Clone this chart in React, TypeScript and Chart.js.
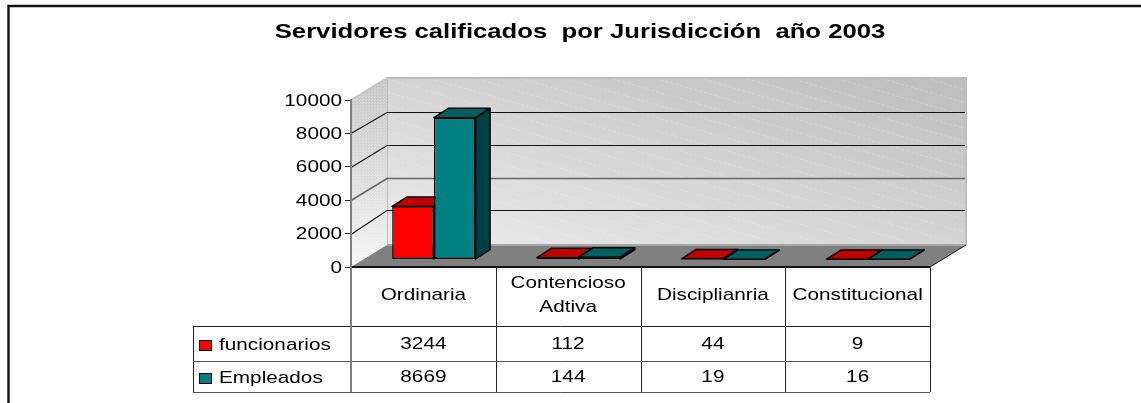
import React, { useEffect, useRef } from "react";
import { Chart, registerables } from "chart.js";

Chart.register(...registerables);

const chartTitle = "Servidores calificados  por Jurisdicción  año 2003";
const categories = ["Ordinaria", "Contencioso Adtiva", "Disciplianria", "Constitucional"];
const categoryLines = [["Ordinaria"], ["Contencioso", "Adtiva"], ["Disciplianria"], ["Constitucional"]];
const funcionarios = [3244, 112, 44, 9];
const empleados = [8669, 144, 19, 16];
const yTicks = [0, 2000, 4000, 6000, 8000, 10000];

const seriesStyle = [
  { name: "funcionarios", values: funcionarios, front: "#ff0000", top: "#c00000", side: "#800000" },
  { name: "Empleados", values: empleados, front: "#008080", top: "#006060", side: "#004040" },
];

const FONT = '"Liberation Sans", Arial, sans-serif';
const WALL_DX = 36;
const WALL_DY = 22;
const BAR_DX = 10.5;
const BAR_DY = 7.5;
const DEPTH_DX = 14.5;
const DEPTH_DY = 9.5;
const BAR_SQUEEZE = 0.98;
const TEXT_STRETCH = 1.22;
const TITLE_STRETCH = 1.252;

function stretched(ctx: any, text: string, x: number, y: number, k = TEXT_STRETCH) {
  ctx.save();
  ctx.translate(x, y);
  ctx.scale(k, 1);
  ctx.fillText(text, 0, 0);
  ctx.restore();
}

function dotPattern(ctx: any) {
  const c = document.createElement("canvas");
  c.width = 3;
  c.height = 3;
  const p = c.getContext("2d") as CanvasRenderingContext2D;
  p.fillStyle = "rgba(255,255,255,0.3)";
  p.fillRect(0, 0, 1, 1);
  p.fillRect(2, 1, 1, 1);
  return ctx.createPattern(c, "repeat");
}

const threeD = {
  id: "threeD",
  afterLayout(chart: any) {
    const { ctx, scales } = chart;
    const t = chart.titleBlock;
    t.left = 0;
    t.right = 1160;
    if (!t.__wrapped) {
      t.__wrapped = true;
      const orig = t.draw;
      t.draw = function (...args: any[]) {
        ctx.save();
        ctx.translate(580, 0);
        ctx.scale(TITLE_STRETCH, 1);
        ctx.translate(-580, 0);
        orig.apply(this, args);
        ctx.restore();
      };
    }
    const y = scales.y;
    if (!y.__wrapped) {
      y.__wrapped = true;
      const orig = y.drawLabels;
      y.drawLabels = function (...args: any[]) {
        ctx.save();
        ctx.translate(342, 1);
        ctx.scale(TEXT_STRETCH, 1);
        ctx.translate(-342, 0);
        orig.apply(this, args);
        ctx.restore();
      };
    }
  },
  beforeDraw(chart: any) {
    const { ctx, chartArea: a, scales } = chart;
    const y = scales.y;
    ctx.save();
    ctx.fillStyle = "#fff";
    ctx.fillRect(0, 0, chart.width, chart.height);

    // outer frame: top and left edges only are in the picture
    ctx.strokeStyle = "#111";
    ctx.lineWidth = 2.4;
    ctx.beginPath();
    ctx.moveTo(8.5, 403);
    ctx.lineTo(8.5, 6);
    ctx.lineTo(1141, 6);
    ctx.stroke();

    const bl = a.left + WALL_DX, br = a.right + WALL_DX;
    const bt = a.top - WALL_DY, bb = a.bottom - WALL_DY;

    // back wall: diagonal grey gradient
    const ex = br - bl, ey = bb - bt;
    const len = Math.hypot(ex, ey);
    const dx = ey / len, dy = -ex / len;
    const dist = ex * dx + -ey * dy;
    const g = ctx.createLinearGradient(bl, bb, bl + dx * dist, bb + dy * dist);
    g.addColorStop(0, "#ebebeb");
    g.addColorStop(1, "#bdbdbd");
    ctx.fillStyle = g;
    ctx.fillRect(bl, bt, ex, ey);

    // faint diagonal stripes of the gradient fill
    ctx.save();
    ctx.beginPath();
    ctx.rect(bl, bt, ex, ey);
    ctx.clip();
    ctx.strokeStyle = "rgba(255,255,255,0.22)";
    ctx.lineWidth = 1;
    ctx.setLineDash([3, 2]);
    for (let o = -ex * 0.29; o < ey; o += 13) {
      ctx.beginPath();
      ctx.moveTo(bl, bt + o);
      ctx.lineTo(br, bt + o + ex * 0.288);
      ctx.stroke();
    }
    ctx.restore();

    ctx.strokeStyle = "#bdbdbd";
    ctx.lineWidth = 2;
    ctx.beginPath();
    ctx.moveTo(bl, bb);
    ctx.lineTo(bl, bt);
    ctx.lineTo(br, bt);
    ctx.lineTo(br, bb);
    ctx.stroke();

    // left wall, lighter towards the bottom, with a dotted texture
    const sg = ctx.createLinearGradient(bl, bt, a.left, a.bottom);
    sg.addColorStop(0, "#c6c6c6");
    sg.addColorStop(0.55, "#dedede");
    sg.addColorStop(1, "#f6f6f6");
    const wall = () => {
      ctx.beginPath();
      ctx.moveTo(a.left, a.top);
      ctx.lineTo(bl, bt);
      ctx.lineTo(bl, bb);
      ctx.lineTo(a.left, a.bottom);
      ctx.closePath();
    };
    ctx.fillStyle = sg;
    wall();
    ctx.fill();
    ctx.fillStyle = dotPattern(ctx);
    wall();
    ctx.fill();
    ctx.strokeStyle = "#c4c4c4";
    ctx.lineWidth = 1.5;
    ctx.beginPath();
    ctx.moveTo(a.left, a.top);
    ctx.lineTo(bl, bt);
    ctx.stroke();

    // floor
    ctx.fillStyle = "#808080";
    ctx.beginPath();
    ctx.moveTo(a.left, a.bottom);
    ctx.lineTo(bl, bb);
    ctx.lineTo(br, bb);
    ctx.lineTo(a.right, a.bottom);
    ctx.closePath();
    ctx.fill();
    ctx.strokeStyle = "#a6a6a6";
    ctx.lineWidth = 2;
    ctx.beginPath();
    ctx.moveTo(bl, bb);
    ctx.lineTo(br, bb);
    ctx.stroke();
    ctx.strokeStyle = "#111";
    ctx.lineWidth = 1;
    ctx.beginPath();
    ctx.moveTo(a.right, a.bottom);
    ctx.lineTo(br, bb);
    ctx.stroke();

    // gridlines, through the y scale; the back wall is slightly foreshortened
    for (const t of yTicks) {
      if (t === 0 || t === 10000) continue;
      const py = y.getPixelForValue(t);
      const backY = a.bottom - 24 - (a.bottom - py) * BAR_SQUEEZE;
      ctx.strokeStyle = t === 4000 ? "#666" : "#111";
      ctx.lineWidth = t === 4000 ? 1.6 : 1.2;
      ctx.beginPath();
      ctx.moveTo(a.left, Math.round(py) + 0.5);
      ctx.lineTo(bl, Math.round(backY) + 0.5);
      ctx.lineTo(br - 1, Math.round(backY) + 0.5);
      ctx.stroke();
    }
    ctx.restore();
  },
  beforeDatasetDraw() {
    return false;
  },
  afterDatasetsDraw(chart: any) {
    const { ctx } = chart;
    ctx.save();
    seriesStyle.forEach((s, di) => {
      const meta = chart.getDatasetMeta(di);
      meta.data.forEach((el: any) => {
        const { x, y, base, width } = el.getProps(["x", "y", "base", "width"], true);
        ctx.save();
        ctx.setTransform(1, 0, 0, BAR_SQUEEZE, BAR_DX, base * (1 - BAR_SQUEEZE) - BAR_DY);
        const l = x - width / 2, r = x + width / 2;
        ctx.lineWidth = 1.5;
        ctx.strokeStyle = "#000";
        ctx.lineJoin = "round";
        ctx.fillStyle = s.top;
        ctx.beginPath();
        ctx.moveTo(l, y);
        ctx.lineTo(l + DEPTH_DX, y - DEPTH_DY);
        ctx.lineTo(r + DEPTH_DX, y - DEPTH_DY);
        ctx.lineTo(r, y);
        ctx.closePath();
        ctx.fill();
        ctx.stroke();
        ctx.fillStyle = s.side;
        ctx.beginPath();
        ctx.moveTo(r, y);
        ctx.lineTo(r + DEPTH_DX, y - DEPTH_DY);
        ctx.lineTo(r + DEPTH_DX, base - DEPTH_DY);
        ctx.lineTo(r, base);
        ctx.closePath();
        ctx.fill();
        ctx.stroke();
        el.draw(ctx);
        ctx.restore();
      });
    });
    ctx.restore();
  },
  afterDraw(chart: any) {
    const { ctx, chartArea: a, scales } = chart;
    const x = scales.x;
    const rows = [326, 361, 392];
    const tableLeft = 193;
    ctx.save();
    const step = (a.right - a.left) / categories.length;

    ctx.strokeStyle = "#111";
    ctx.lineWidth = 2;
    ctx.beginPath();
    ctx.moveTo(a.left, a.bottom);
    ctx.lineTo(a.right, a.bottom);
    ctx.stroke();

    ctx.lineWidth = 1;
    ctx.strokeStyle = "#222";
    ctx.beginPath();
    categories.forEach((_, i) => {
      const vx = Math.round(x.getPixelForValue(i) + step / 2) + 0.5;
      ctx.moveTo(vx, a.bottom);
      ctx.lineTo(vx, rows[2]);
    });
    ctx.moveTo(tableLeft, rows[0] + 0.5);
    ctx.lineTo(a.right, rows[0] + 0.5);
    ctx.moveTo(tableLeft + 0.5, rows[0]);
    ctx.lineTo(tableLeft + 0.5, rows[2]);
    ctx.stroke();
    ctx.strokeStyle = "#555";
    ctx.beginPath();
    ctx.moveTo(tableLeft, rows[1] + 0.5);
    ctx.lineTo(a.right, rows[1] + 0.5);
    ctx.moveTo(tableLeft, rows[2] + 0.5);
    ctx.lineTo(a.right, rows[2] + 0.5);
    ctx.stroke();
    ctx.strokeStyle = "#808080";
    ctx.lineWidth = 2;
    ctx.beginPath();
    ctx.moveTo(a.left, a.top);
    ctx.lineTo(a.left, rows[2]);
    ctx.stroke();

    ctx.fillStyle = "#000";
    ctx.font = `17px ${FONT}`;
    ctx.textBaseline = "middle";
    ctx.textAlign = "center";
    categoryLines.forEach((lines, i) => {
      const cx = x.getPixelForValue(i);
      if (lines.length === 1) stretched(ctx, lines[0], cx, 295);
      else {
        stretched(ctx, lines[0], cx, 283);
        stretched(ctx, lines[1], cx, 307);
      }
    });

    seriesStyle.forEach((s, ri) => {
      const mid = ri === 0 ? 344 : 377;
      s.values.forEach((v, i) => stretched(ctx, String(v), x.getPixelForValue(i), mid));
      ctx.textAlign = "left";
      stretched(ctx, s.name, 219, mid + 1);
      ctx.textAlign = "center";
      ctx.fillStyle = s.front;
      ctx.fillRect(199.5, mid - 3.5, 12, 10);
      ctx.strokeStyle = "#000";
      ctx.lineWidth = 1;
      ctx.strokeRect(199.5, mid - 3.5, 12, 10);
      ctx.fillStyle = "#000";
    });
    ctx.restore();
  },
};

export default function App() {
  const ref = useRef<HTMLCanvasElement>(null);
  useEffect(() => {
    const chart = new Chart(ref.current as HTMLCanvasElement, {
      type: "bar",
      data: {
        labels: categories,
        datasets: seriesStyle.map((s) => ({
          label: s.name,
          data: s.values,
          backgroundColor: s.front,
          borderColor: "#000",
          borderWidth: 1.5,
          borderSkipped: false,
          barPercentage: 1,
          categoryPercentage: 0.576,
        })),
      },
      options: {
        animation: false,
        responsive: false,
        devicePixelRatio: 1,
        layout: { padding: { left: 0, right: 211, top: 0, bottom: 136 } },
        plugins: {
          legend: { display: false },
          tooltip: { enabled: false },
          title: {
            display: true,
            text: chartTitle,
            color: "#000",
            font: { family: FONT, size: 20.5, weight: "bold", lineHeight: 1.2 },
            padding: { top: 20, bottom: 55.4 },
          },
        },
        scales: {
          x: { display: false },
          y: {
            min: 0,
            max: 10000,
            afterFit(scale: any) {
              scale.width = 351;
            },
            afterBuildTicks(scale: any) {
              scale.ticks = yTicks.map((value) => ({ value }));
            },
            ticks: {
              color: "#000",
              font: { family: FONT, size: 17 },
              padding: 3,
              callback: (v: any) => String(v),
            },
            border: { color: "#808080", width: 2 },
            grid: { drawOnChartArea: false, drawTicks: true, tickLength: 6, tickColor: "#222", tickWidth: 1 },
          },
        },
      } as any,
      plugins: [threeD as any],
    });
    return () => chart.destroy();
  }, []);
  return (
    <canvas
      ref={ref}
      width={1141}
      height={403}
      style={{ position: "absolute", left: 0, top: 0, display: "block", width: 1141, height: 403 }}
    />
  );
}
